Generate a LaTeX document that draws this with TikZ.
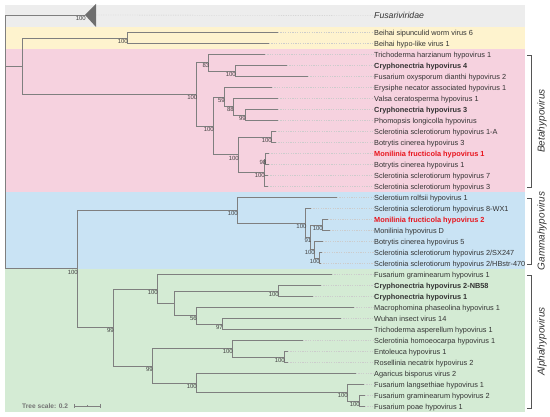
\documentclass[tikz,border=0pt]{standalone}
\usepackage{fontspec}
\setmainfont{Liberation Sans}
\usetikzlibrary{calc}
\definecolor{greyband}{HTML}{EDEDED}
\definecolor{yellowband}{HTML}{FEF3CE}
\definecolor{pinkband}{HTML}{F6D2DF}
\definecolor{blueband}{HTML}{C9E3F4}
\definecolor{greenband}{HTML}{D4EBD4}
\definecolor{treecol}{HTML}{7F7F7F}
\definecolor{labcol}{HTML}{333333}
\definecolor{bscol}{HTML}{444444}
\definecolor{redlab}{HTML}{E8141C}
\definecolor{brcol}{HTML}{555555}
\definecolor{tricol}{HTML}{6E6E6E}
\newcommand\leaf[5]{%
  \coordinate (#1) at (#2,{32.5+11*#3});
  \node[lab,#4] (#1L) at (374,{32.5+11*#3}) {#5};
  \draw[lead] (#1) -- (#1L.west);
}
\begin{document}
\begin{tikzpicture}[x=1pt,y=-1pt,
  br/.style={draw=treecol,line width=0.8pt},
  lead/.style={draw=black!20,line width=0.35pt,dash pattern=on 1.2pt off 1.2pt},
  lab/.style={anchor=west,inner sep=0pt,text height=5.3pt,text depth=0pt,font=\fontsize{7.35}{8}\selectfont,text=labcol},
  bld/.style={font=\fontsize{7.35}{8}\selectfont\bfseries},
  rlab/.style={font=\fontsize{7.35}{8}\selectfont\bfseries,text=redlab},
  nrm/.style={},
  bs/.style={anchor=north east,inner sep=0pt,xshift=1pt,yshift=-0.8pt,font=\fontsize{6}{6.5}\selectfont,text=bscol},
  clade/.style={rotate=90,inner sep=0pt,font=\fontsize{10}{11}\selectfont\itshape,text=labcol},
  bracket/.style={draw=brcol,line width=0.6pt}]
\useasboundingbox (0,0) rectangle (550,417);
% bands
\fill[greyband] (5,5) rectangle (525,27.5);
\fill[yellowband] (5,27.5) rectangle (525,49);
\fill[pinkband] (5,49) rectangle (525,192);
\fill[blueband] (5,192) rectangle (525,269.5);
\fill[greenband] (5,269.5) rectangle (525,412);
% leaves
\leaf{BSW}{278}{0}{nrm}{Beihai sipunculid worm virus 6}
\leaf{BHL}{269}{1}{nrm}{Beihai hypo-like virus 1}
\leaf{THH}{265}{2}{nrm}{Trichoderma harzianum hypovirus 1}
\leaf{CH4}{287}{3}{bld}{Cryphonectria hypovirus 4}
\leaf{FOD}{308}{4}{nrm}{Fusarium oxysporum dianthi hypovirus 2}
\leaf{ENA}{272}{5}{nrm}{Erysiphe necator associated hypovirus 1}
\leaf{VCH}{278}{6}{nrm}{Valsa ceratosperma hypovirus 1}
\leaf{CH3}{278}{7}{bld}{Cryphonectria hypovirus 3}
\leaf{PLH}{278}{8}{nrm}{Phomopsis longicolla hypovirus}
\leaf{S1A}{276}{9}{nrm}{Sclerotinia sclerotiorum hypovirus 1-A}
\leaf{BC3}{276}{10}{nrm}{Botrytis cinerea hypovirus 3}
\leaf{MF1}{269}{11}{rlab}{Monilinia fructicola hypovirus 1}
\leaf{BC1}{269}{12}{nrm}{Botrytis cinerea hypovirus 1}
\leaf{SS7}{268}{13}{nrm}{Sclerotinia sclerotiorum hypovirus 7}
\leaf{SS3}{268}{14}{nrm}{Sclerotinia sclerotiorum hypovirus 3}
\leaf{SRH}{337}{15}{nrm}{Sclerotium rolfsii hypovirus 1}
\leaf{SS8}{311}{16}{nrm}{Sclerotinia sclerotiorum hypovirus 8-WX1}
\leaf{MF2}{328}{17}{rlab}{Monilinia fructicola hypovirus 2}
\leaf{MHD}{330}{18}{nrm}{Monilinia hypovirus D}
\leaf{BC5}{323}{19}{nrm}{Botrytis cinerea hypovirus 5}
\leaf{SXA}{322}{20}{nrm}{Sclerotinia sclerotiorum hypovirus 2/SX247}
\leaf{HBS}{321}{21}{nrm}{Sclerotinia sclerotiorum hypovirus 2/HBstr-470}
\leaf{FG1}{332}{22}{nrm}{Fusarium graminearum hypovirus 1}
\leaf{CH2}{321}{23}{bld}{Cryphonectria hypovirus 2-NB58}
\leaf{CH1}{313}{24}{bld}{Cryphonectria hypovirus 1}
\leaf{MPH}{354}{25}{nrm}{Macrophomina phaseolina hypovirus 1}
\leaf{WIV}{341}{26}{nrm}{Wuhan insect virus 14}
\leaf{TAH}{372}{27}{nrm}{Trichoderma asperellum hypovirus 1}
\leaf{SHH}{303}{28}{nrm}{Sclerotinia homoeocarpa hypovirus 1}
\leaf{EH1}{288}{29}{nrm}{Entoleuca hypovirus 1}
\leaf{RN2}{288}{30}{nrm}{Rosellinia necatrix hypovirus 2}
\leaf{AB2}{356}{31}{nrm}{Agaricus bisporus virus 2}
\leaf{FLH}{364}{32}{nrm}{Fusarium langsethiae hypovirus 1}
\leaf{FG2}{365}{33}{nrm}{Fusarium graminearum hypovirus 2}
\leaf{FPH}{365}{34}{nrm}{Fusarium poae hypovirus 1}
% Fusariviridae collapsed clade
\coordinate (fus) at (85,15);
\coordinate (fusB) at (96,15);
\fill[tricol] (fus) -- (96,4) -- (96,27) -- cycle;
\node[lab,font=\fontsize{8.7}{10}\selectfont\itshape,text height=6.2pt] (fusL) at (374,15.5) {Fusariviridae};
\draw[lead] (fusB) -- (fusL.west);
% internal nodes
\coordinate (root) at (5,141.9);
\coordinate (n22) at (22,66.19);
\coordinate (nY) at (127,38);
\coordinate (n196) at (196.5,94.375);
\coordinate (n83) at (208.5,62.75);
\coordinate (n235) at (235,71);
\coordinate (n213) at (213,126);
\coordinate (n59) at (224,97.125);
\coordinate (n88) at (233,106.75);
\coordinate (n99) at (245,115);
\coordinate (n238) at (238,154.875);
\coordinate (n271) at (271,137);
\coordinate (n264) at (264,172.75);
\coordinate (n98) at (265.5,159);
\coordinate (n77) at (77,268.83);
\coordinate (n237) at (237,210.22);
\coordinate (n306) at (305.7,222.94);
\coordinate (n91) at (310.5,237.375);
\coordinate (n323) at (322,225);
\coordinate (n311) at (314,249.75);
\coordinate (n318) at (319,258);
\coordinate (n113) at (113,327.44);
\coordinate (n157) at (157,288.94);
\coordinate (n174) at (174,303.375);
\coordinate (n278) at (278,291);
\coordinate (n56) at (196,315.75);
\coordinate (n97) at (222,324);
\coordinate (n152) at (152,365.94);
\coordinate (n232) at (232,348.75);
\coordinate (n284) at (284,357);
\coordinate (n196a) at (196,383.125);
\coordinate (n347) at (347,392.75);
\coordinate (n359) at (359,401);
% branches
\foreach \p/\c in {root/fus,root/n22,root/n77,
  n22/nY,n22/n196,nY/BSW,nY/BHL,
  n196/n83,n196/n213,n83/THH,n83/n235,n235/CH4,n235/FOD,
  n213/n59,n213/n238,n59/ENA,n59/n88,n88/VCH,n88/n99,n99/CH3,n99/PLH,
  n238/n271,n238/n264,n271/S1A,n271/BC3,n264/n98,n264/SS7,n264/SS3,n98/MF1,n98/BC1,
  n77/n237,n77/n113,n237/SRH,n237/n306,n306/SS8,n306/n91,n91/n323,n91/n311,
  n323/MF2,n323/MHD,n311/BC5,n311/n318,n318/SXA,n318/HBS,
  n113/n157,n113/n152,n157/FG1,n157/n174,n174/n278,n174/n56,n278/CH2,n278/CH1,
  n56/MPH,n56/n97,n97/WIV,n97/TAH,
  n152/n232,n152/n196a,n232/SHH,n232/n284,n284/EH1,n284/RN2,
  n196a/AB2,n196a/n347,n347/FLH,n347/n359,n359/FG2,n359/FPH}
  {\draw[br] (\p) |- (\c);}
% bootstrap values
\foreach \n/\v in {fus/100,nY/100,n196/100,n83/83,n235/100,n213/100,n59/59,n88/88,n99/99,
  n238/100,n271/100,n98/98,n264/100,n77/100,n237/100,n306/100,n323/100,n91/91,n311/100,n318/100,
  n113/99,n157/100,n278/100,n56/56,n97/97,n152/99,n232/100,n284/100,n196a/100,n347/100,n359/100}
  {\node[bs] (b\n) at (\n) {\v};}
% clade brackets
\foreach \nm/\ya/\yb/\t in {beta/55/187/Betahypovirus,gamma/198/264/Gammahypovirus,alpha/275/408/Alphahypovirus}{
  \coordinate (\nm1) at (531,\ya);
  \coordinate (\nm2) at (531,\yb);
  \draw[bracket] ([xshift=-4pt]\nm1) -- (\nm1) -- (\nm2) -- ([xshift=-4pt]\nm2);
  \node[clade] (\nm L) at ($(\nm1)!0.5!(\nm2)+(11,0)$) {\t};
}
% tree scale
\node[anchor=west,inner sep=0pt,font=\fontsize{6.6}{7}\selectfont\bfseries,text=black!55] (tsc) at (22,406) {Tree scale: 0.2};
\coordinate (sb1) at (74,406);
\coordinate (sb2) at (100,406);
\coordinate (sbm) at (87,406);
\draw[draw=black!50,line width=0.6pt] (sb1) -- (sb2);
\draw[draw=black!50,line width=0.6pt] ([yshift=2pt]sb1) -- ([yshift=-2pt]sb1);
\draw[draw=black!50,line width=0.6pt] ([yshift=2pt]sb2) -- ([yshift=-2pt]sb2);
\draw[draw=black!50,line width=0.5pt] ([yshift=1pt]sbm) -- ([yshift=-1pt]sbm);
\end{tikzpicture}
\end{document}
